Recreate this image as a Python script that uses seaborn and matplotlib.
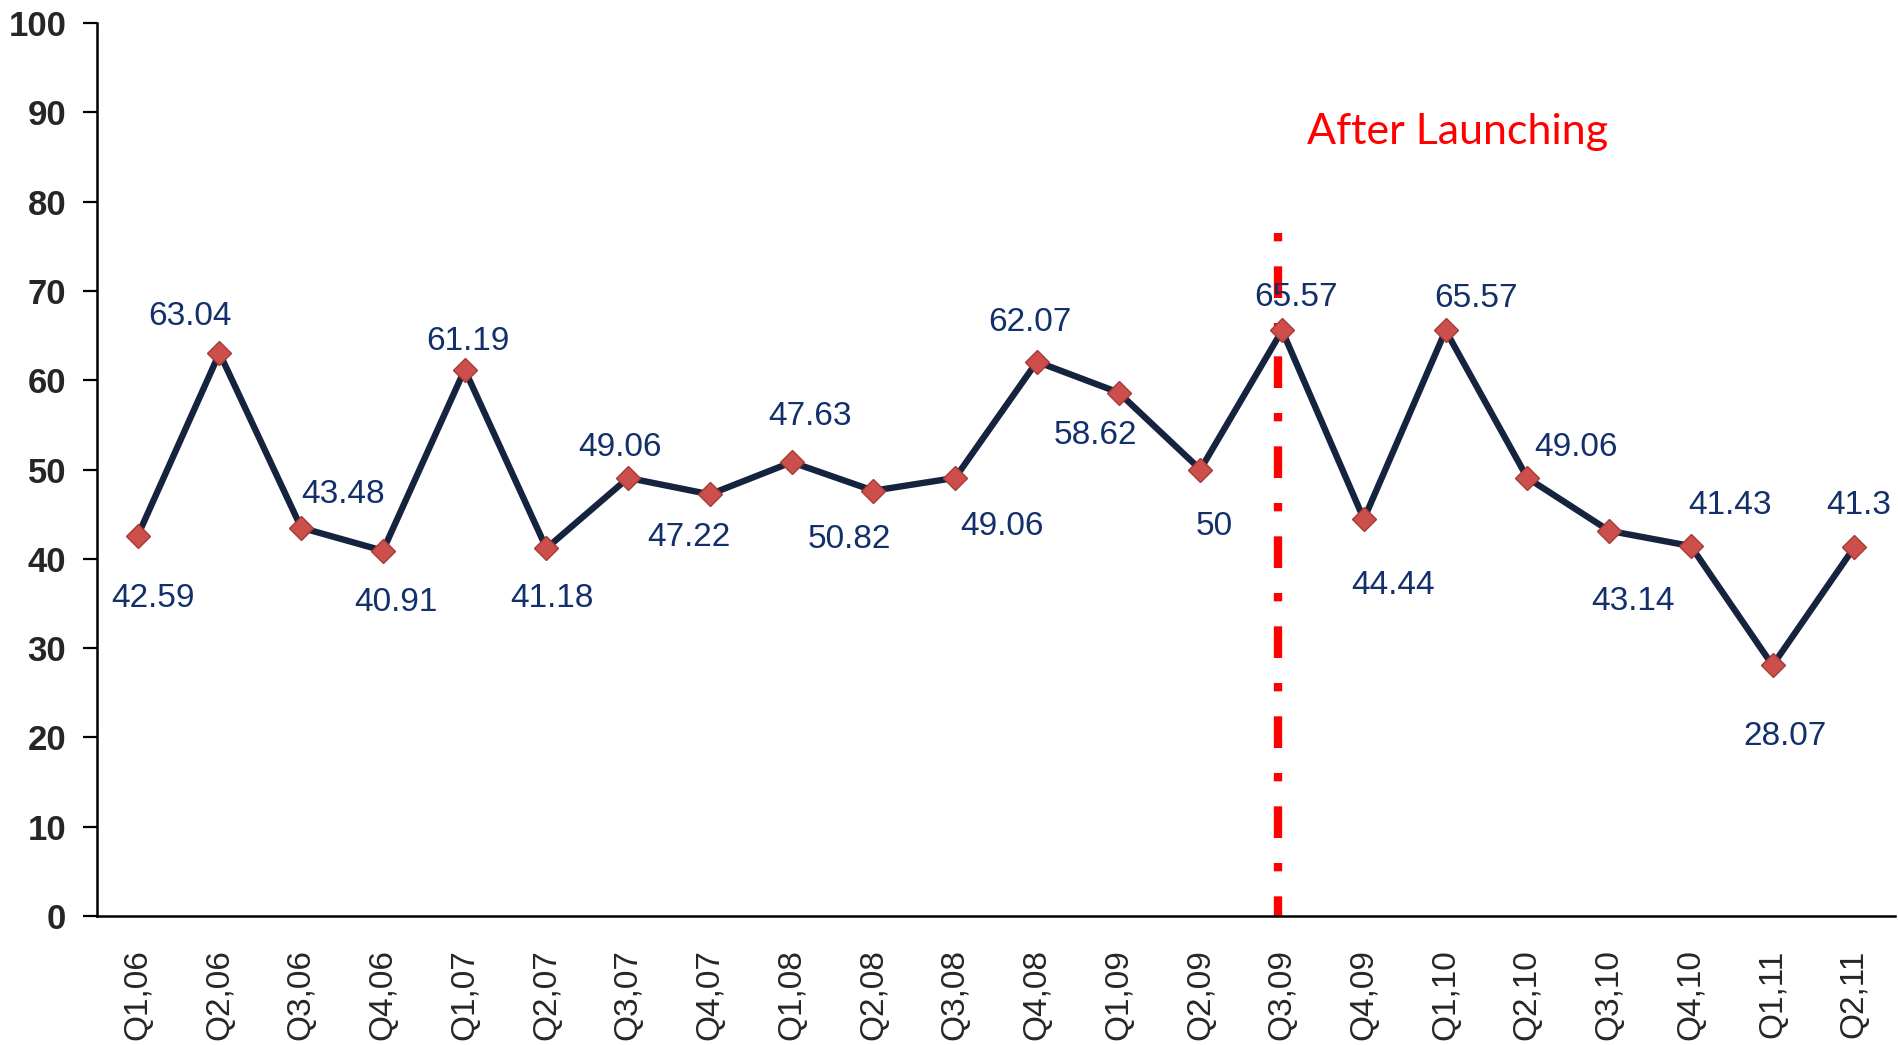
import matplotlib
matplotlib.use("Agg")
import matplotlib.pyplot as plt
import seaborn as sns
import pandas as pd
import numpy as np

quarters = ["Q1,06", "Q2,06", "Q3,06", "Q4,06", "Q1,07", "Q2,07", "Q3,07", "Q4,07",
            "Q1,08", "Q2,08", "Q3,08", "Q4,08", "Q1,09", "Q2,09", "Q3,09", "Q4,09",
            "Q1,10", "Q2,10", "Q3,10", "Q4,10", "Q1,11", "Q2,11"]
values = [42.59, 63.04, 43.48, 40.91, 61.19, 41.18, 49.06, 47.22,
          50.82, 47.63, 49.06, 62.07, 58.62, 50, 65.57, 44.44,
          65.57, 49.06, 43.14, 41.43, 28.07, 41.3]
label_texts = ["42.59", "63.04", "43.48", "40.91", "61.19", "41.18", "49.06", "47.22",
               "47.63", "50.82", "49.06", "62.07", "58.62", "50", "65.57", "44.44",
               "65.57", "49.06", "43.14", "41.43", "28.07", "41.3"]
launch_quarter = "Q3,09"
launch_text = "After Launching"
launch_line_top = 76.5
yticks = list(range(0, 101, 10))

# label offsets (points) -- styling
label_offsets = [(11, -45), (-21, 26), (30, 24), (9, -37), (2, 20), (4, -36), (-6, 22),
                 (-15, -31), (13, 33), (-17, -35), (34, -35), (-5, 28), (-17, -31),
                 (10, -41), (10, 24), (21, -48), (22, 23), (35, 22), (17, -51),
                 (28, 29), (9, -51), (3, 30)]

sns.set_style("white")
plt.rcParams['font.family'] = ['Liberation Sans', 'DejaVu Sans']

df = pd.DataFrame({"quarter": quarters, "value": values})
df["pos"] = np.arange(len(quarters))

fig = plt.figure(figsize=(18.99, 10.45), dpi=100)
ax = fig.add_axes([0.051, 0.1234, 0.947, 0.8546])

sns.lineplot(data=df, x="pos", y="value", ax=ax, sort=False, errorbar=None,
             color="#15233F", linewidth=4.6, marker="D", markersize=12.5,
             markerfacecolor="#CC4F4B", markeredgecolor="#A53B38", markeredgewidth=1.0,
             zorder=3)

for i, (q, v, t) in enumerate(zip(quarters, values, label_texts)):
    dx, dy = label_offsets[i]
    ax.annotate(t, (i, v), xytext=(dx, dy), textcoords="offset points",
                ha="center", va="center", fontsize=24, color="#13306A", zorder=4)

lx = quarters.index(launch_quarter) - 0.05
ax.plot([lx, lx], [launch_line_top, 0], color="#FF0000", linewidth=6,
        linestyle=(0, (1.0, 3.0, 3.8, 3.0)), zorder=2, solid_capstyle="butt",
        dash_capstyle="butt")
ax.text(quarters.index(launch_quarter) + 0.3, 87.8, launch_text, color="#FF0000",
        fontsize=31, ha="left", va="center", family=["Lato", "DejaVu Sans"])

ax.set_xlim(-0.5, len(quarters) - 0.5)
ax.set_ylim(0, 100)
ax.set_yticks(yticks)
ax.set_yticklabels([str(y) for y in yticks], fontsize=25, fontweight="bold")
ax.set_xticks(np.arange(len(quarters)))
ax.set_xticklabels(quarters, rotation=90, fontsize=24)
ax.set_xticks(np.arange(len(quarters) + 1) - 0.5, minor=True)
ax.tick_params(axis="x", which="major", length=0, pad=24)
ax.tick_params(axis="x", which="minor", length=10, width=1.6, direction="out", color="black")
ax.tick_params(axis="y", which="major", length=10, width=1.6, direction="out", color="black", pad=12, left=True)
ax.set_xlabel("")
ax.set_ylabel("")
for s in ["top", "right"]:
    ax.spines[s].set_visible(False)
for s in ["left", "bottom"]:
    ax.spines[s].set_color("black")
    ax.spines[s].set_linewidth(1.8)

fig.savefig("out.png", dpi=100)
